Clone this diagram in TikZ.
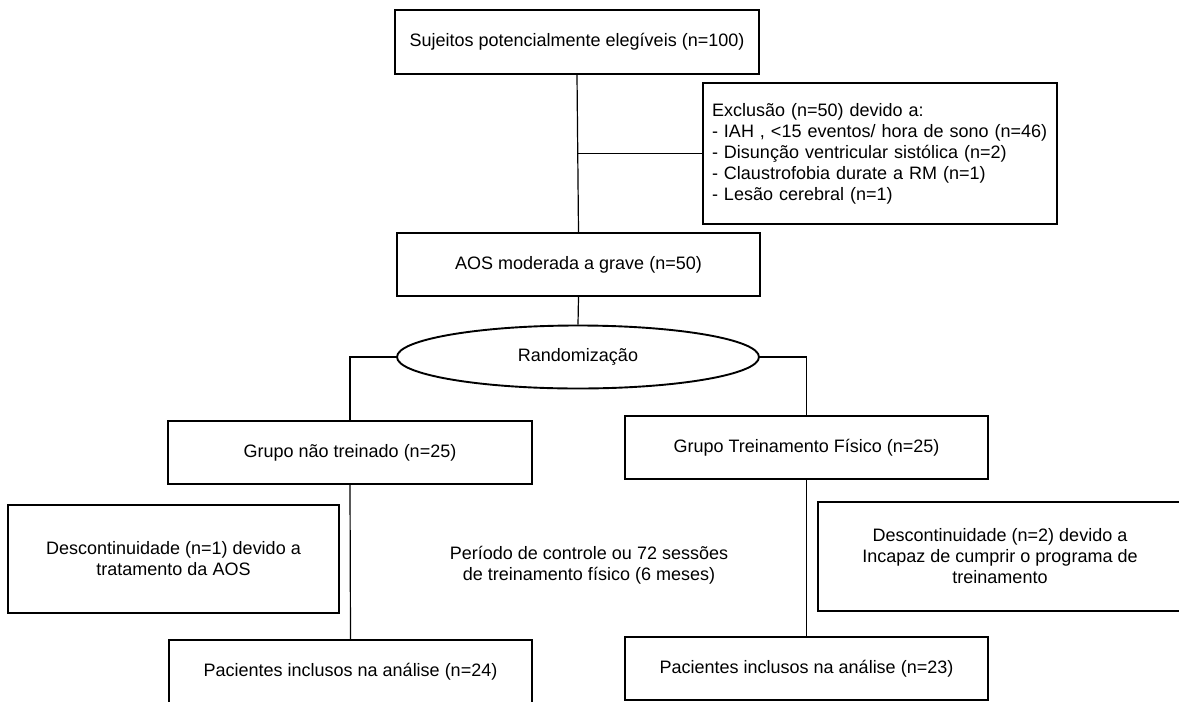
\documentclass[tikz,border=0pt]{standalone}
\usepackage{fontspec}
\setmainfont{Liberation Sans}
\usetikzlibrary{shapes.geometric}

\begin{document}
\begin{tikzpicture}[x=1pt, y=-1pt,
  box/.style={draw, line width=1.9pt, minimum width=363pt, minimum height=63pt, inner sep=0pt, align=center},
  line/.style={line width=1.2pt},
  every node/.style={font=\fontsize{18}{21}\selectfont}]
  % Page size
  \useasboundingbox (0,0) rectangle (1179,702);

  % Screening
  \node[box, minimum width=364pt, minimum height=64pt] (start) at (577,42) {Sujeitos potencialmente elegíveis (n=100)};
  \node[box, minimum width=354pt, minimum height=141pt, text width=336pt, align=left] (excl) at (880,153.5)
    {Exclusão (n=50) devido a:\\
     - IAH , <15 eventos/ hora de sono (n=46)\\
     - Disunção ventricular sistólica (n=2)\\
     - Claustrofobia durate a RM (n=1)\\
     - Lesão cerebral (n=1)};
  \node[box] (aos) at (578.5,264.5) {AOS moderada a grave (n=50)};

  % Randomization
  \node[draw, ellipse, line width=1.9pt, minimum width=362pt, minimum height=63pt, inner sep=0pt] (rand) at (578,357) {Randomização};

  % Groups
  \node[box, minimum width=364pt] (ctrl) at (350,452.5) {Grupo não treinado (n=25)};
  \node[box] (treino) at (806.5,447.5) {Grupo Treinamento Físico (n=25)};

  % Dropouts
  \node[box, minimum width=331pt, minimum height=108pt] (descA) at (173.5,559)
    {Descontinuidade (n=1) devido a\\ tratamento da AOS};
  \node[box, minimum width=364pt, minimum height=109pt] (descB) at (1000,556.5)
    {Descontinuidade (n=2) devido a\\ Incapaz de cumprir o programa de\\ treinamento};
  \node[align=center, inner sep=0pt] (periodo) at (589,565)
    {Período de controle ou 72 sessões\\ de treinamento físico (6 meses)};

  % Analysis
  \node[box, minimum height=64pt] (fimA) at (350.5,672) {Pacientes inclusos na análise (n=24)};
  \node[box] (fimB) at (806.5,668.5) {Pacientes inclusos na análise (n=23)};

  % Connectors
  \draw[line] (start.south) -- (aos.north);
  \draw[line] (excl.west) -- (excl.west -| start.south);
  \draw[line] (aos.south) -- (rand.north);
  \draw[line] (rand.west) -| (ctrl.north);
  \draw[line] (rand.east) -| (treino.north);
  \draw[line] (ctrl.south) -- (fimA.north);
  \draw[line] (treino.south) -- (fimB.north);
\end{tikzpicture}
\end{document}
